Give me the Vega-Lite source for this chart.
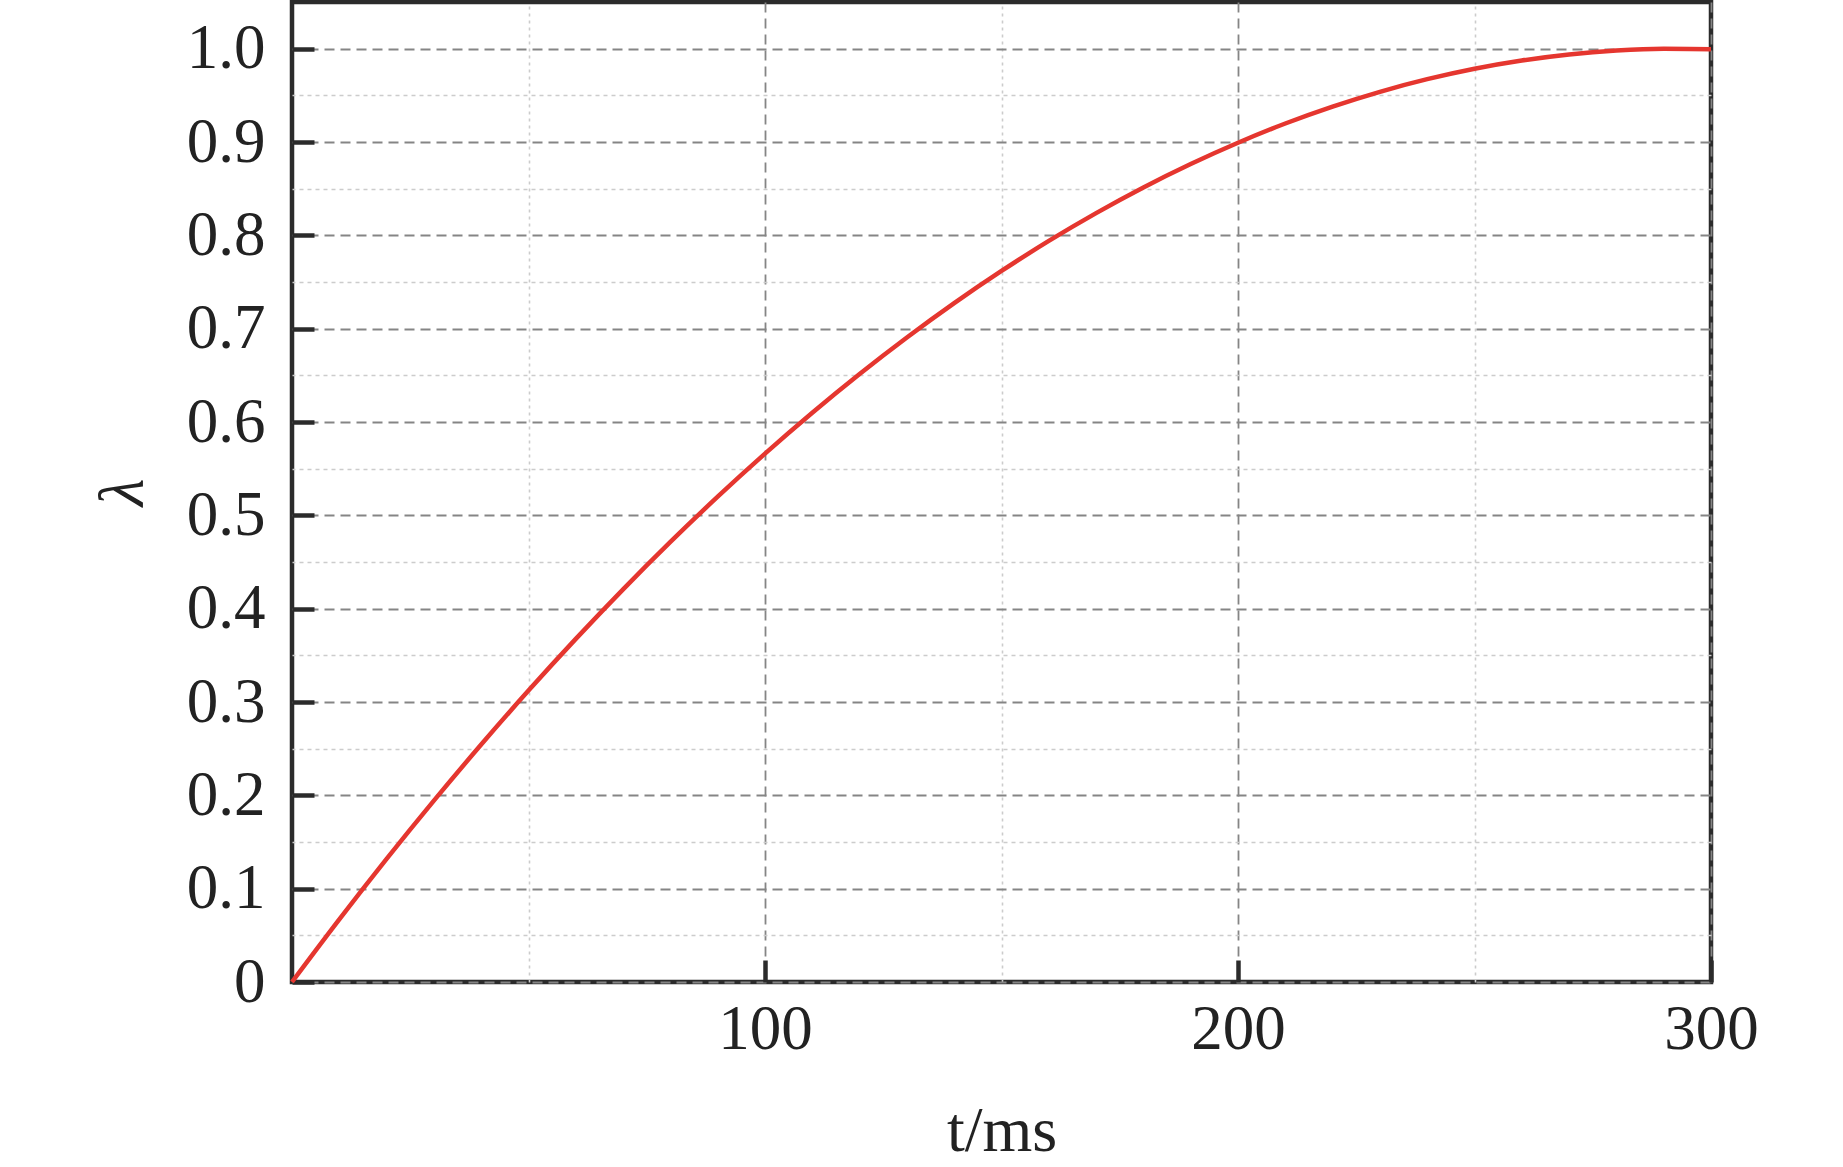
{
  "$schema": "https://vega.github.io/schema/vega-lite/v6.json",
  "autosize": {"type": "none"},
  "width": 1419,
  "height": 980,
  "padding": {"left": 292, "top": 2, "right": 132, "bottom": 185},
  "background": "white",
  "config": {
    "view": {"stroke": "#2b2b2b", "strokeWidth": 4.5},
    "font": "Liberation Serif",
    "axis": {
      "labelFont": "Liberation Serif",
      "titleFont": "Liberation Serif",
      "labelColor": "#222222",
      "titleColor": "#222222",
      "labelFontSize": 63,
      "titleFontSize": 64,
      "titleFontWeight": "normal",
      "domain": false
    }
  },
  "data": {
    "values": [
      {"t": 0, "lambda": 0},
      {"t": 10, "lambda": 0.0671},
      {"t": 20, "lambda": 0.1319},
      {"t": 30, "lambda": 0.1943},
      {"t": 40, "lambda": 0.2544},
      {"t": 50, "lambda": 0.3122},
      {"t": 60, "lambda": 0.3676},
      {"t": 70, "lambda": 0.4207},
      {"t": 80, "lambda": 0.4715},
      {"t": 90, "lambda": 0.52},
      {"t": 100, "lambda": 0.5661},
      {"t": 110, "lambda": 0.6099},
      {"t": 120, "lambda": 0.6514},
      {"t": 130, "lambda": 0.6905},
      {"t": 140, "lambda": 0.7273},
      {"t": 150, "lambda": 0.7618},
      {"t": 160, "lambda": 0.794},
      {"t": 170, "lambda": 0.8238},
      {"t": 180, "lambda": 0.8513},
      {"t": 190, "lambda": 0.8764},
      {"t": 200, "lambda": 0.8992},
      {"t": 210, "lambda": 0.9198},
      {"t": 220, "lambda": 0.9379},
      {"t": 230, "lambda": 0.9538},
      {"t": 240, "lambda": 0.9673},
      {"t": 250, "lambda": 0.9785},
      {"t": 260, "lambda": 0.9873},
      {"t": 270, "lambda": 0.9938},
      {"t": 280, "lambda": 0.998},
      {"t": 290, "lambda": 0.9999},
      {"t": 300, "lambda": 0.9994}
    ]
  },
  "resolve": {"axis": {"x": "independent", "y": "independent"}},
  "layer": [
    {
      "mark": {"type": "line", "strokeOpacity": 0},
      "encoding": {
        "x": {
          "field": "t", "type": "quantitative",
          "scale": {"domain": [0, 300], "nice": false, "zero": false},
          "axis": {
            "orient": "top", "values": [50, 150, 250], "grid": true,
            "gridColor": "#cccccc", "gridDash": [3, 4], "gridWidth": 1.6,
            "labels": false, "ticks": false, "domain": false, "title": null
          }
        },
        "y": {
          "field": "lambda", "type": "quantitative",
          "scale": {"domain": [0, 1.05], "nice": false, "zero": false},
          "axis": {
            "orient": "right",
            "values": [0.05, 0.15, 0.25, 0.35, 0.45, 0.55, 0.65, 0.75, 0.85, 0.95],
            "grid": true, "gridColor": "#cccccc", "gridDash": [4, 4], "gridWidth": 1.6,
            "labels": false, "ticks": false, "domain": false, "title": null
          }
        }
      }
    },
    {
      "mark": {"type": "line", "color": "#e5362f", "strokeWidth": 4.5, "interpolate": "monotone"},
      "encoding": {
        "x": {
          "field": "t", "type": "quantitative",
          "scale": {"domain": [0, 300], "nice": false, "zero": false},
          "axis": {
            "orient": "bottom", "values": [100, 200, 300], "grid": true,
            "gridColor": "#858585", "gridDash": [10, 6], "gridWidth": 1.8,
            "ticks": true, "tickSize": -22, "tickWidth": 4.5, "tickColor": "#2b2b2b",
            "labelPadding": 38, "labelFlush": false,
            "title": "t/ms", "titlePadding": 38
          }
        },
        "y": {
          "field": "lambda", "type": "quantitative",
          "scale": {"domain": [0, 1.05], "nice": false, "zero": false},
          "axis": {
            "orient": "left",
            "values": [0, 0.1, 0.2, 0.3, 0.4, 0.5, 0.6, 0.7, 0.8, 0.9, 1.0],
            "labelExpr": "datum.value === 0 ? '0' : format(datum.value, '.1f')",
            "grid": true, "gridColor": "#858585", "gridDash": [10, 6], "gridWidth": 1.8,
            "ticks": true, "tickSize": -22, "tickWidth": 4.5, "tickColor": "#2b2b2b",
            "labelPadding": 49, "labelFlush": false,
            "title": "λ", "titleFontStyle": "italic", "titlePadding": 31
          }
        }
      }
    }
  ]
}
